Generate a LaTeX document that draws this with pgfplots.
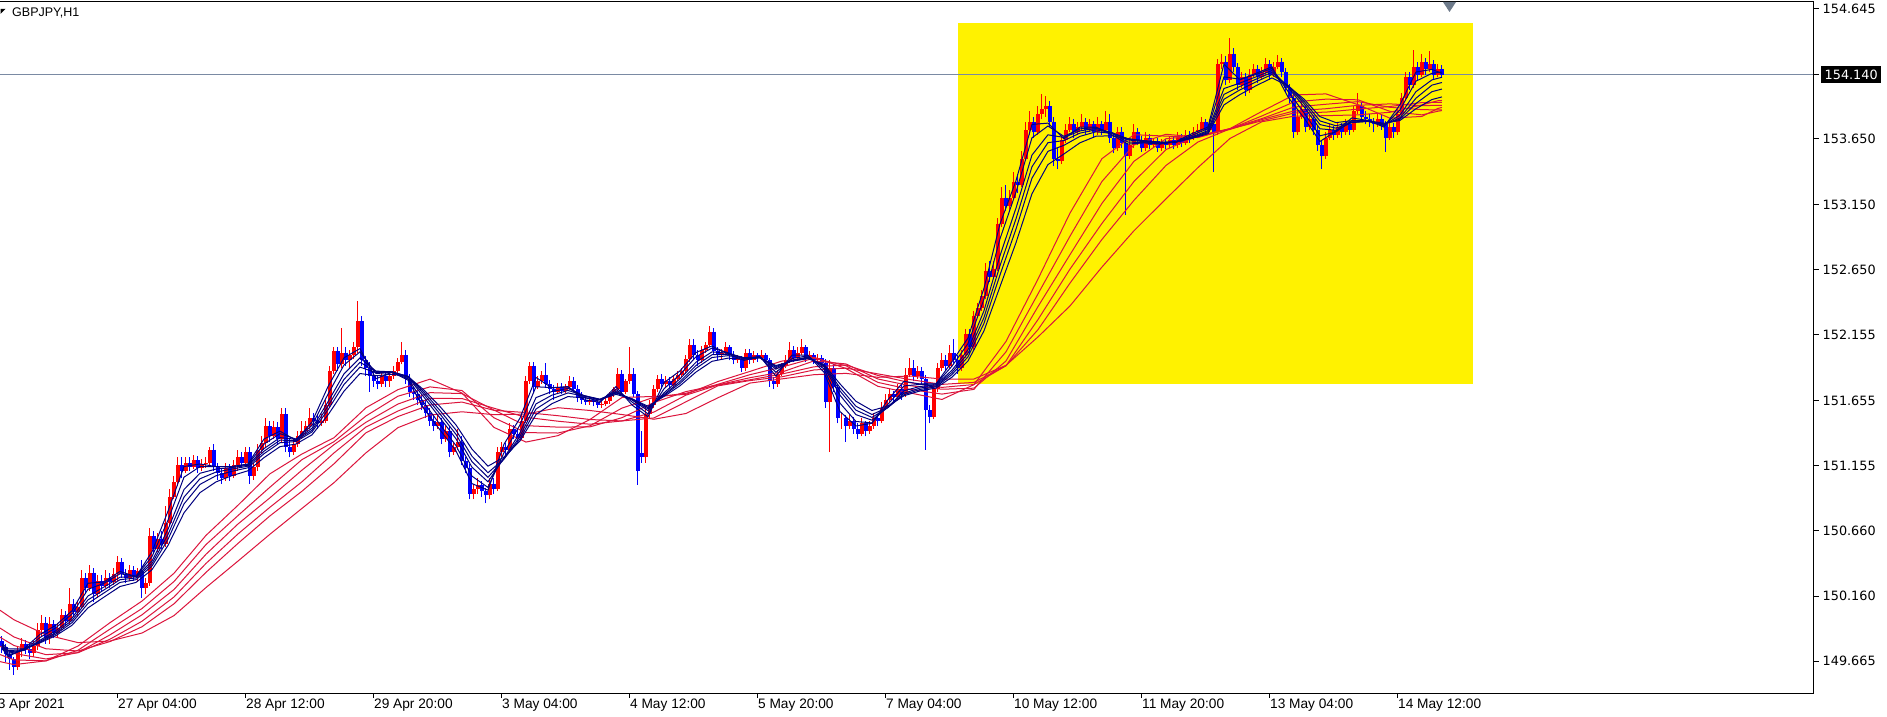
\documentclass[border=0pt]{standalone}
\usepackage{pgfplots}
\usepackage{pgfplotstable}
\pgfplotsset{compat=1.18}
\usepackage{fontspec}
\setmainfont{Liberation Sans}
\newfontfamily\pricefontfam{DejaVu Sans}
\newfontfamily\datefontfam{Liberation Sans}
\newcommand\pricefont{\pricefontfam\fontsize{12.8}{14}\selectfont}
\newcommand\datefont{\datefontfam\fontsize{13.7}{15}\selectfont}
\newcommand\titlefont{\datefontfam\fontsize{12.5}{14}\selectfont}
\definecolor{candleup}{HTML}{FF0000}
\definecolor{candledn}{HTML}{0000FF}
\definecolor{maBlue}{HTML}{000080}
\definecolor{maRed}{HTML}{DC143C}
\definecolor{bidline}{HTML}{7A8AA3}
\definecolor{shiftgray}{HTML}{6E7B8B}

\pgfplotstableread{
o h l c
149.82 149.86 149.73 149.77
149.77 149.80 149.66 149.72
149.72 149.75 149.60 149.68
149.68 149.70 149.56 149.62
149.62 149.78 149.60 149.74
149.74 149.84 149.70 149.80
149.80 149.83 149.72 149.76
149.76 149.80 149.68 149.73
149.73 149.82 149.70 149.78
149.78 149.96 149.75 149.90
149.90 150.02 149.86 149.96
149.96 150.00 149.80 149.84
149.84 150.00 149.80 149.95
149.95 149.98 149.84 149.88
149.88 149.96 149.85 149.92
149.92 150.06 149.90 150.02
150.02 150.05 149.93 149.97
149.97 150.22 149.95 150.10
150.10 150.14 150.00 150.04
150.04 150.12 150.00 150.08
150.08 150.36 150.06 150.30
150.30 150.34 150.18 150.22
150.22 150.40 150.20 150.34
150.34 150.38 150.12 150.18
150.18 150.32 150.15 150.28
150.28 150.32 150.20 150.24
150.24 150.36 150.22 150.30
150.30 150.34 150.22 150.27
150.27 150.38 150.25 150.33
150.33 150.47 150.28 150.42
150.42 150.45 150.30 150.33
150.33 150.37 150.26 150.30
150.30 150.40 150.28 150.36
150.36 150.39 150.28 150.31
150.31 150.38 150.27 150.35
150.35 150.44 150.15 150.22
150.22 150.30 150.18 150.26
150.26 150.68 150.24 150.62
150.62 150.66 150.48 150.52
150.52 150.64 150.50 150.60
150.60 150.66 150.52 150.56
150.56 150.85 150.54 150.72
150.72 150.98 150.70 150.92
150.92 151.08 150.90 151.03
151.03 151.22 151.00 151.16
151.16 151.22 151.06 151.12
151.12 151.22 151.10 151.18
151.18 151.22 151.12 151.15
151.15 151.24 151.13 151.20
151.20 151.23 151.10 151.14
151.14 151.21 151.12 151.17
151.17 151.22 151.14 151.18
151.18 151.30 151.16 151.28
151.28 151.32 151.12 151.15
151.15 151.18 151.05 151.10
151.10 151.13 151.02 151.06
151.06 151.18 151.04 151.14
151.14 151.17 151.04 151.08
151.08 151.20 151.06 151.16
151.16 151.28 151.12 151.22
151.22 151.26 151.14 151.18
151.18 151.30 151.16 151.26
151.26 151.30 151.02 151.08
151.08 151.18 151.05 151.15
151.15 151.32 151.12 151.28
151.28 151.38 151.25 151.33
151.33 151.52 151.30 151.46
151.46 151.50 151.34 151.38
151.38 151.50 151.36 151.45
151.45 151.49 151.32 151.36
151.36 151.60 151.34 151.55
151.55 151.60 151.26 151.30
151.30 151.36 151.22 151.26
151.26 151.36 151.24 151.32
151.32 151.42 151.30 151.38
151.38 151.50 151.36 151.42
151.42 151.50 151.40 151.46
151.46 151.60 151.44 151.52
151.52 151.56 151.46 151.50
151.50 151.54 151.44 151.48
151.48 151.55 151.46 151.50
151.50 151.66 151.48 151.62
151.62 151.92 151.60 151.88
151.88 152.06 151.86 152.03
152.03 152.06 151.88 151.93
151.93 152.21 151.90 152.02
152.02 152.06 151.92 151.96
151.96 152.04 151.90 152.00
152.00 152.10 151.97 152.06
152.06 152.41 152.02 152.26
152.26 152.30 151.92 151.96
151.96 151.99 151.84 151.90
151.90 151.95 151.72 151.84
151.84 151.88 151.76 151.80
151.80 151.84 151.74 151.78
151.78 151.88 151.76 151.84
151.84 151.87 151.76 151.80
151.80 151.88 151.76 151.84
151.84 151.92 151.82 151.88
151.88 151.98 151.86 151.95
151.95 152.10 151.93 152.00
152.00 152.04 151.78 151.82
151.82 151.86 151.68 151.72
151.72 151.76 151.66 151.70
151.70 151.74 151.62 151.66
151.66 151.70 151.58 151.62
151.62 151.66 151.52 151.56
151.56 151.60 151.46 151.50
151.50 151.54 151.42 151.46
151.46 151.54 151.44 151.49
151.49 151.52 151.32 151.36
151.36 151.46 151.34 151.42
151.42 151.46 151.22 151.26
151.26 151.34 151.24 151.30
151.30 151.44 151.28 151.34
151.34 151.38 151.16 151.19
151.19 151.22 151.10 151.14
151.14 151.17 150.90 150.94
150.94 151.02 150.90 150.98
150.98 151.06 150.94 151.01
151.01 151.04 150.92 150.96
150.96 150.99 150.87 150.93
150.93 151.06 150.90 151.02
151.02 151.06 150.94 150.98
150.98 151.30 150.96 151.26
151.26 151.34 151.22 151.30
151.30 151.33 151.22 151.28
151.28 151.48 151.26 151.44
151.44 151.47 151.36 151.40
151.40 151.44 151.34 151.37
151.37 151.54 151.35 151.50
151.50 151.84 151.48 151.80
151.80 151.95 151.78 151.92
151.92 151.95 151.72 151.76
151.76 151.84 151.74 151.80
151.80 151.88 151.78 151.85
151.85 151.94 151.75 151.78
151.78 151.81 151.70 151.74
151.74 151.77 151.66 151.72
151.72 151.79 151.70 151.76
151.76 151.79 151.70 151.73
151.73 151.78 151.71 151.76
151.76 151.84 151.74 151.80
151.80 151.83 151.72 151.74
151.74 151.77 151.64 151.68
151.68 151.72 151.63 151.66
151.66 151.69 151.62 151.64
151.64 151.68 151.62 151.66
151.66 151.68 151.61 151.64
151.64 151.67 151.60 151.62
151.62 151.65 151.60 151.63
151.63 151.67 151.61 151.65
151.65 151.72 151.63 151.70
151.70 151.76 151.68 151.74
151.74 151.90 151.72 151.86
151.86 151.89 151.70 151.72
151.72 151.82 151.70 151.80
151.80 152.06 151.78 151.86
151.86 151.90 151.68 151.70
151.70 151.73 151.01 151.12
151.25 151.42 151.18 151.22
151.22 151.60 151.18 151.55
151.55 151.66 151.52 151.62
151.62 151.77 151.60 151.74
151.74 151.85 151.72 151.82
151.82 151.86 151.74 151.78
151.78 151.84 151.76 151.80
151.80 151.83 151.74 151.77
151.77 151.85 151.75 151.82
151.82 151.88 151.80 151.85
151.85 151.90 151.83 151.88
151.88 152.00 151.86 151.97
151.97 152.12 151.95 152.08
152.08 152.12 151.96 152.00
152.00 152.04 151.92 151.96
151.96 152.07 151.94 152.04
152.04 152.10 152.02 152.08
152.08 152.22 152.06 152.18
152.18 152.21 152.00 152.03
152.03 152.06 151.96 152.00
152.00 152.05 151.97 152.02
152.02 152.10 152.00 152.06
152.06 152.08 151.96 152.00
152.00 152.03 151.93 151.96
151.96 152.00 151.94 151.97
151.97 151.99 151.87 151.90
151.90 152.05 151.88 152.02
152.02 152.05 151.93 151.96
151.96 152.03 151.94 152.00
152.00 152.02 151.95 151.98
151.98 152.04 151.96 152.00
152.00 152.02 151.93 151.96
151.96 151.98 151.76 151.80
151.80 151.83 151.74 151.78
151.78 151.89 151.76 151.86
151.86 151.94 151.84 151.92
151.92 152.00 151.90 151.96
151.96 152.10 151.94 152.04
152.04 152.07 151.95 151.98
151.98 152.06 151.96 152.02
152.02 152.12 152.00 152.06
152.06 152.08 151.95 151.98
151.98 152.03 151.96 152.00
152.00 152.02 151.93 151.96
151.96 152.01 151.94 151.98
151.98 152.00 151.90 151.94
151.94 151.97 151.60 151.64
151.64 151.96 151.26 151.90
151.90 151.93 151.72 151.76
151.76 151.78 151.48 151.52
151.52 151.56 151.44 151.52
151.52 151.54 151.34 151.46
151.46 151.54 151.44 151.50
151.50 151.53 151.40 151.44
151.44 151.48 151.36 151.40
151.40 151.52 151.38 151.48
151.48 151.50 151.38 151.42
151.42 151.50 151.40 151.46
151.46 151.56 151.44 151.52
151.52 151.55 151.46 151.50
151.50 151.64 151.48 151.60
151.60 151.70 151.58 151.66
151.66 151.74 151.64 151.70
151.70 151.73 151.64 151.68
151.68 151.78 151.66 151.74
151.74 151.77 151.66 151.70
151.70 151.90 151.68 151.85
151.85 151.98 151.83 151.90
151.90 151.96 151.80 151.84
151.84 151.92 151.82 151.88
151.88 151.91 151.78 151.82
151.82 151.85 151.28 151.58
151.58 151.62 151.48 151.53
151.53 151.78 151.51 151.74
151.74 151.94 151.72 151.90
151.90 152.02 151.88 151.96
151.96 152.00 151.88 151.92
151.92 152.08 151.90 152.02
152.02 152.12 151.94 151.96
151.96 152.00 151.86 151.90
151.90 152.04 151.88 152.00
152.00 152.20 151.98 152.16
152.16 152.20 152.02 152.06
152.06 152.34 152.04 152.30
152.30 152.40 152.28 152.36
152.36 152.50 152.34 152.45
152.45 152.70 152.43 152.64
152.64 152.72 152.56 152.60
152.60 152.72 152.58 152.66
152.66 153.05 152.64 153.00
153.00 153.28 152.98 153.20
153.20 153.30 153.10 153.14
153.14 153.26 153.10 153.20
153.20 153.40 153.18 153.32
153.32 153.38 153.24 153.30
153.30 153.56 153.28 153.50
153.50 153.78 153.48 153.72
153.72 153.86 153.68 153.78
153.78 153.82 153.66 153.70
153.70 153.90 153.68 153.84
153.84 153.99 153.80 153.88
153.88 153.98 153.82 153.90
153.90 153.94 153.74 153.78
153.78 153.82 153.44 153.50
153.50 153.58 153.42 153.48
153.48 153.68 153.46 153.64
153.64 153.76 153.62 153.72
153.72 153.82 153.70 153.76
153.76 153.80 153.66 153.70
153.70 153.78 153.68 153.74
153.74 153.84 153.72 153.78
153.78 153.81 153.68 153.72
153.72 153.80 153.70 153.76
153.76 153.79 153.66 153.70
153.70 153.82 153.68 153.76
153.76 153.79 153.68 153.72
153.72 153.86 153.70 153.78
153.78 153.84 153.62 153.66
153.66 153.69 153.54 153.58
153.58 153.74 153.56 153.70
153.70 153.74 153.58 153.62
153.62 153.66 153.07 153.52
153.52 153.66 153.50 153.60
153.60 153.76 153.58 153.70
153.70 153.73 153.60 153.64
153.64 153.67 153.55 153.58
153.58 153.70 153.56 153.66
153.66 153.69 153.57 153.60
153.60 153.66 153.58 153.63
153.63 153.66 153.55 153.58
153.58 153.65 153.56 153.62
153.62 153.65 153.57 153.60
153.60 153.67 153.58 153.64
153.64 153.67 153.57 153.60
153.60 153.70 153.58 153.66
153.66 153.69 153.59 153.62
153.62 153.72 153.60 153.68
153.68 153.71 153.62 153.66
153.66 153.74 153.64 153.70
153.70 153.76 153.66 153.72
153.72 153.82 153.70 153.78
153.78 153.80 153.68 153.72
153.72 153.80 153.70 153.76
153.76 153.79 153.40 153.70
153.70 154.26 153.68 154.22
154.22 154.30 154.18 154.24
154.24 154.28 154.06 154.10
154.10 154.42 154.08 154.30
154.30 154.34 154.16 154.20
154.20 154.23 154.02 154.06
154.06 154.16 154.04 154.12
154.12 154.15 153.98 154.02
154.02 154.18 154.00 154.14
154.14 154.22 154.12 154.18
154.18 154.21 154.08 154.12
154.12 154.20 154.10 154.16
154.16 154.27 154.14 154.22
154.22 154.25 154.10 154.14
154.14 154.24 154.12 154.20
154.20 154.29 154.18 154.24
154.24 154.27 154.12 154.16
154.16 154.19 154.00 154.04
154.04 154.07 153.92 153.96
153.96 153.99 153.66 153.70
153.70 153.86 153.68 153.82
153.82 153.94 153.80 153.88
153.88 153.91 153.70 153.74
153.74 153.84 153.72 153.80
153.80 153.83 153.68 153.72
153.72 153.75 153.56 153.60
153.60 153.63 153.42 153.52
153.52 153.70 153.50 153.66
153.66 153.76 153.64 153.72
153.72 153.75 153.64 153.68
153.68 153.78 153.66 153.74
153.74 153.77 153.66 153.70
153.70 153.80 153.68 153.76
153.76 153.79 153.68 153.72
153.72 153.90 153.70 153.86
153.86 154.00 153.84 153.90
153.90 153.93 153.78 153.82
153.82 153.86 153.76 153.80
153.80 153.84 153.74 153.78
153.78 153.81 153.70 153.76
153.76 153.84 153.74 153.80
153.80 153.83 153.72 153.76
153.76 153.79 153.55 153.66
153.66 153.78 153.64 153.74
153.74 153.77 153.66 153.70
153.70 153.88 153.68 153.84
153.84 154.00 153.82 153.96
153.96 154.16 153.94 154.12
154.12 154.16 154.02 154.06
154.06 154.33 154.04 154.20
154.20 154.24 154.10 154.14
154.14 154.30 154.12 154.24
154.24 154.27 154.14 154.18
154.18 154.32 154.16 154.22
154.22 154.25 154.10 154.14
154.14 154.22 154.12 154.18
154.18 154.21 154.12 154.14
}\candles

\pgfplotstableread{
x e3 e5 e8 e10 e12 e15
-29 149.77 149.76 149.77 149.78 149.79 149.80
-27.5 149.70 149.712 149.726 149.736 149.746 149.759
-23.5 149.76 149.751 149.748 149.749 149.753 149.759
-19.5 149.87 149.846 149.825 149.816 149.810 149.805
-15.5 149.94 149.921 149.898 149.884 149.873 149.861
-11.5 150.05 150.025 149.994 149.976 149.959 149.939
-7.5 150.26 150.214 150.163 150.133 150.106 150.072
-3.5 150.27 150.259 150.231 150.209 150.186 150.154
0.5 150.35 150.332 150.306 150.287 150.266 150.235
4.5 150.31 150.314 150.309 150.300 150.287 150.266
8.5 150.50 150.463 150.430 150.410 150.391 150.363
12.5 150.81 150.741 150.671 150.631 150.595 150.548
16.5 151.15 151.069 150.975 150.917 150.865 150.797
20.5 151.17 151.150 151.099 151.057 151.014 150.951
24.5 151.15 151.150 151.131 151.108 151.080 151.033
28.5 151.15 151.150 151.143 151.131 151.114 151.081
32.5 151.17 151.166 151.160 151.153 151.141 151.118
36.5 151.36 151.322 151.287 151.267 151.248 151.218
40.5 151.42 151.401 151.371 151.351 151.332 151.302
44.5 151.35 151.360 151.358 151.350 151.341 151.322
48.5 151.49 151.464 151.442 151.427 151.414 151.392
52.5 151.76 151.702 151.644 151.611 151.583 151.544
56.5 151.98 151.925 151.857 151.815 151.776 151.725
60.5 152.05 152.025 151.979 151.945 151.909 151.860
64.5 151.82 151.860 151.878 151.876 151.866 151.843
68.5 151.87 151.868 151.873 151.873 151.868 151.854
72.5 151.81 151.821 151.833 151.838 151.840 151.836
76.5 151.59 151.636 151.679 151.701 151.718 151.734
80.5 151.43 151.471 151.521 151.551 151.578 151.608
84.5 151.27 151.310 151.362 151.396 151.428 151.468
88.5 151.02 151.077 151.145 151.188 151.229 151.283
92.5 150.97 150.991 151.034 151.068 151.103 151.153
96.5 151.32 151.255 151.215 151.207 151.209 151.222
100.5 151.52 151.468 151.408 151.380 151.360 151.345
104.5 151.83 151.759 151.676 151.628 151.589 151.546
108.5 151.75 151.752 151.723 151.695 151.667 151.630
112.5 151.76 151.758 151.746 151.731 151.712 151.684
116.5 151.66 151.679 151.691 151.692 151.687 151.674
120.5 151.64 151.648 151.659 151.663 151.664 151.660
124.5 151.76 151.738 151.723 151.717 151.711 151.701
128.5 151.62 151.643 151.658 151.663 151.667 151.667
132.5 151.53 151.552 151.577 151.590 151.600 151.610
136.5 151.79 151.743 151.712 151.700 151.693 151.685
140.5 151.88 151.853 151.819 151.799 151.784 151.766
144.5 152.02 151.987 151.946 151.921 151.899 151.871
148.5 152.07 152.054 152.025 152.003 151.982 151.953
152.5 152.01 152.019 152.015 152.007 151.996 151.977
156.5 151.96 151.972 151.980 151.981 151.978 151.970
160.5 151.99 151.986 151.986 151.986 151.984 151.978
164.5 151.84 151.869 151.893 151.905 151.914 151.921
168.5 152.00 151.974 151.961 151.957 151.956 151.954
172.5 152.00 151.995 151.986 151.981 151.977 151.973
176.5 151.87 151.895 151.912 151.920 151.925 151.930
180.5 151.57 151.634 151.695 151.727 151.752 151.781
184.5 151.46 151.494 151.546 151.580 151.610 151.648
188.5 151.48 151.483 151.504 151.525 151.547 151.578
192.5 151.66 151.625 151.603 151.600 151.602 151.612
196.5 151.80 151.765 151.728 151.710 151.698 151.690
200.5 151.78 151.777 151.761 151.749 151.738 151.727
204.5 151.78 151.779 151.773 151.766 151.758 151.749
208.5 151.95 151.916 151.885 151.868 151.852 151.832
212.5 152.13 152.088 152.040 152.013 151.987 151.955
216.5 152.51 152.427 152.338 152.287 152.242 152.185
220.5 153.00 152.887 152.758 152.681 152.611 152.522
224.5 153.33 153.243 153.121 153.039 152.961 152.857
228.5 153.76 153.658 153.526 153.437 153.350 153.231
232.5 153.77 153.748 153.681 153.621 153.555 153.454
236.5 153.65 153.669 153.661 153.637 153.601 153.535
240.5 153.74 153.726 153.711 153.694 153.669 153.620
244.5 153.74 153.737 153.729 153.719 153.704 153.670
248.5 153.68 153.691 153.698 153.697 153.692 153.674
252.5 153.61 153.626 153.642 153.649 153.652 153.648
256.5 153.62 153.621 153.628 153.633 153.636 153.636
260.5 153.61 153.612 153.617 153.620 153.623 153.625
264.5 153.63 153.626 153.625 153.626 153.626 153.627
268.5 153.69 153.677 153.666 153.661 153.657 153.653
272.5 153.74 153.728 153.713 153.705 153.697 153.689
276.5 154.22 154.123 154.034 153.989 153.952 153.909
280.5 154.10 154.105 154.076 154.050 154.024 153.988
284.5 154.15 154.141 154.123 154.105 154.085 154.055
288.5 154.20 154.188 154.172 154.157 154.141 154.115
292.5 153.97 154.013 154.044 154.054 154.058 154.055
296.5 153.81 153.850 153.896 153.919 153.937 153.954
300.5 153.63 153.673 153.727 153.759 153.787 153.820
304.5 153.71 153.703 153.716 153.732 153.750 153.774
308.5 153.81 153.789 153.776 153.775 153.779 153.789
312.5 153.79 153.790 153.785 153.783 153.784 153.789
316.5 153.74 153.750 153.756 153.759 153.763 153.769
320.5 153.91 153.870 153.830 153.810 153.800 153.790
324.5 154.16 154.090 154.010 153.960 153.920 153.880
328.5 154.18 154.150 154.100 154.060 154.010 153.950
331 154.15 154.160 154.120 154.080 154.030 153.970
}\bluema

\pgfplotstableread{
x s30 s35 s40 s45 s50 s60
-29.5 149.662 149.716 149.779 149.848 149.918 150.054
-26 149.639 149.675 149.724 149.785 149.850 149.981
-18 149.668 149.668 149.682 149.715 149.760 149.867
-10 149.781 149.749 149.731 149.730 149.743 149.807
-2 149.959 149.910 149.866 149.833 149.815 149.819
6 150.124 150.067 150.019 149.970 149.928 149.880
14 150.336 150.273 150.212 150.155 150.103 150.013
22 150.625 150.555 150.481 150.411 150.343 150.227
30 150.855 150.776 150.712 150.636 150.564 150.429
38 151.095 150.993 150.912 150.840 150.774 150.634
46 151.246 151.203 151.123 151.034 150.962 150.831
54 151.370 151.340 151.317 151.254 151.171 151.027
62 151.599 151.536 151.488 151.452 151.408 151.255
70 151.737 151.687 151.627 151.574 151.532 151.447
78 151.817 151.758 151.714 151.670 151.620 151.543
86 151.711 151.730 151.707 151.669 151.642 151.568
94 151.449 151.522 151.581 151.595 151.579 151.546
102 151.337 151.409 151.462 151.526 151.562 151.550
110 151.386 151.406 151.451 151.496 151.538 151.599
118 151.509 151.461 151.453 151.473 151.509 151.578
126 151.677 151.596 151.523 151.498 151.498 151.547
134 151.685 151.679 151.639 151.566 151.521 151.511
142 151.701 151.709 151.722 151.695 151.644 151.555
150 151.799 151.778 151.773 151.772 151.766 151.675
158 151.876 151.851 151.828 151.812 151.806 151.787
166 151.955 151.909 151.871 151.856 151.835 151.819
174 151.984 151.977 151.956 151.911 151.887 151.851
182 151.898 151.919 151.933 151.925 151.901 151.861
190 151.762 151.792 151.818 151.845 151.857 151.831
198 151.712 151.739 151.767 151.790 151.814 151.841
206 151.662 151.703 151.740 151.754 151.777 151.818
214 151.775 151.739 151.748 151.776 151.792 151.818
222 152.104 152.025 151.955 151.919 151.919 151.922
230 152.580 152.467 152.370 152.271 152.194 152.139
238 153.083 152.907 152.766 152.656 152.549 152.375
246 153.499 153.325 153.158 153.005 152.883 152.672
254 153.682 153.603 153.479 153.325 153.181 152.949
262 153.671 153.685 153.651 153.568 153.447 153.192
270 153.660 153.664 153.674 153.674 153.626 153.431
278 153.728 153.726 153.728 153.722 153.726 153.653
286 153.860 153.825 153.805 153.798 153.788 153.781
294 153.985 153.932 153.893 153.863 153.847 153.823
302 153.993 153.953 153.914 153.880 153.854 153.827
310 153.911 153.948 153.934 153.906 153.877 153.833
318 153.808 153.860 153.891 153.917 153.897 153.853
326 153.821 153.833 153.873 153.903 153.927 153.909
330 153.882 153.861 153.871 153.906 153.929 153.941
331 153.890 153.866 153.872 153.906 153.929 153.943
}\redma

\begin{document}
\begin{tikzpicture}
\useasboundingbox[fill=white] (0pt,0pt) rectangle (1887pt,716pt);
\begin{axis}[
  at={(0pt,22.8pt)}, anchor=south west,
  scale only axis, width=1813.5pt, height=691.7pt,
  xmin=-29.5, xmax=423.9, ymin=149.421, ymax=154.698,
  clip mode=individual,
  axis line style={draw=none},
  tick align=outside,
  major tick length=5pt,
  tick style={black, line width=1pt},
  xtick pos=bottom, ytick pos=right,
  yticklabel pos=right,
  xtick={0,32,64,96,128,160,192,224,256,288,320},
  xticklabels={27 Apr 04:00,28 Apr 12:00,29 Apr 20:00,3 May 04:00,4 May 12:00,5 May 20:00,7 May 04:00,10 May 12:00,11 May 20:00,13 May 04:00,14 May 12:00},
  xticklabel style={anchor=north west, inner sep=0pt, font=\datefont, xshift=0pt, yshift=-1pt},
  ytick={149.665,150.160,150.660,151.155,151.655,152.155,152.650,153.150,153.650,154.140,154.645},
  yticklabels={149.665,150.160,150.660,151.155,151.655,152.155,152.650,153.150,153.650,{},154.645},
  yticklabel style={anchor=west, inner sep=0pt, font=\pricefont, xshift=4pt},
]
\fill[yellow] (axis cs:210,151.778) rectangle (axis cs:338.7,154.535);
\draw[bidline, line width=1pt] (axis cs:-29.5,154.14) -- (axis cs:423.9,154.14);

% wicks
\addplot[draw=candleup, line width=1pt, quiver={u=0, v=\thisrow{h}-\thisrow{l}},
  restrict expr to domain={\thisrow{c}-\thisrow{o}}{0:10}]
  table[x expr=\coordindex-29, y=l] {\candles};
\addplot[draw=candledn, line width=1pt, quiver={u=0, v=\thisrow{h}-\thisrow{l}},
  restrict expr to domain={\thisrow{c}-\thisrow{o}}{-10:-0.0001}]
  table[x expr=\coordindex-29, y=l] {\candles};
% bodies
\addplot[draw=candleup, line width=3.3pt, quiver={u=0, v=\thisrow{c}-\thisrow{o}},
  restrict expr to domain={\thisrow{c}-\thisrow{o}}{0:10}]
  table[x expr=\coordindex-29, y=o] {\candles};
\addplot[draw=candledn, line width=3.3pt, quiver={u=0, v=\thisrow{c}-\thisrow{o}},
  restrict expr to domain={\thisrow{c}-\thisrow{o}}{-10:-0.0001}]
  table[x expr=\coordindex-29, y=o] {\candles};

% long-term averages
\addplot[maRed, line width=1pt] table[x=x, y=s30] {\redma};
\addplot[maRed, line width=1pt] table[x=x, y=s35] {\redma};
\addplot[maRed, line width=1pt] table[x=x, y=s40] {\redma};
\addplot[maRed, line width=1pt] table[x=x, y=s45] {\redma};
\addplot[maRed, line width=1pt] table[x=x, y=s50] {\redma};
\addplot[maRed, line width=1pt] table[x=x, y=s60] {\redma};
% short-term averages
\addplot[maBlue, line width=1pt] table[x=x, y=e3] {\bluema};
\addplot[maBlue, line width=1pt] table[x=x, y=e5] {\bluema};
\addplot[maBlue, line width=1pt] table[x=x, y=e8] {\bluema};
\addplot[maBlue, line width=1pt] table[x=x, y=e10] {\bluema};
\addplot[maBlue, line width=1pt] table[x=x, y=e12] {\bluema};
\addplot[maBlue, line width=1pt] table[x=x, y=e15] {\bluema};

% frame
\draw[black, line width=1pt] (axis cs:-29.5,149.421) -- (axis cs:423.9,149.421) -- (axis cs:423.9,154.698) -- (axis cs:-29.5,154.698);
% first (clipped) date label
\draw[black, line width=1pt] (axis cs:-32,149.421) -- ++(0pt,-5pt);
\node[anchor=north west, inner sep=0pt, font=\datefont] at (axis cs:-32,149.421) [yshift=-6pt] {23 Apr 2021};
% current price label
\node[anchor=west, fill=black, text=white, font=\pricefont, inner xsep=3.5pt, inner ysep=3.8pt, text height=9.3pt, text depth=0pt] at (axis cs:423.9,154.14) [xshift=7.5pt] {154.140};
\end{axis}
% chart title
\fill[black] (0.5pt,707pt) -- (5.5pt,707pt) -- (0.5pt,702pt) -- cycle;
\node[anchor=base west, inner sep=0pt, font=\titlefont] at (12pt,699pt) {GBPJPY,H1};
% shift marker
\fill[shiftgray] (1443pt,714pt) -- (1456pt,714pt) -- (1449.5pt,704pt) -- cycle;
\end{tikzpicture}
\end{document}
